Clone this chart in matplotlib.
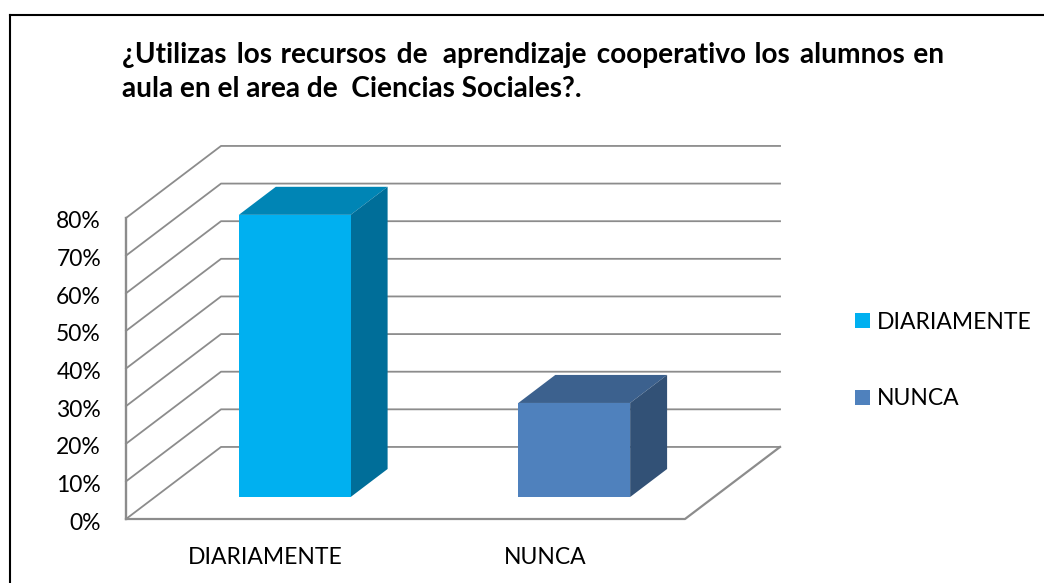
import matplotlib
matplotlib.use("Agg")
import matplotlib.pyplot as plt
from matplotlib.patches import Patch
from matplotlib.transforms import ScaledTranslation

plt.rcParams['font.family'] = ['Lato', 'DejaVu Sans']

categories = ['DIARIAMENTE', 'NUNCA']
values = [75, 25]
front_colors = ['#00B0F0', '#4F81BD']
top_colors = ['#0085B5', '#3C618E']
side_colors = ['#006E99', '#325176']
y_ticks = [0, 10, 20, 30, 40, 50, 60, 70, 80]
y_labels = ['0%', '10%', '20%', '30%', '40%', '50%', '60%', '70%', '80%']
# hair spaces stretch the first line out to the justified width of the original
title_lines = ['¿Utilizas \u200a\u200alos \u200arecursos \u200a\u200ade  \u200aaprendizaje \u200a\u200acooperativo \u200alos \u200a\u200aalumnos \u200aen',
               'aula en el area de  Ciencias Sociales?.']

W, H = 1044, 583
# how far the back of the box is shifted, in category units and percent
DEPTH_X = 0.34
DEPTH_Y = 19.15
BAR_WIDTH = 0.4
BAR_NEAR = 0.305
BAR_FAR = 0.694
GRID = '#8C8C8C'


def shift(x, y, d):
    return x + d * DEPTH_X, y + d * DEPTH_Y


def face(ax, pts, color, z):
    xs = [p[0] for p in pts]
    ys = [p[1] for p in pts]
    ax.fill(xs, ys, color=color, lw=0, zorder=z, clip_on=False)


fig = plt.figure(figsize=(W / 100, H / 100), dpi=100)

# frame of the pasted chart
frame = fig.add_axes([0, 0, 1, 1])
frame.set_xlim(0, W)
frame.set_ylim(H, 0)
frame.axis('off')
frame.plot([9.5, 9.5], [H, 14.5], color='black', lw=1.5)
frame.plot([9.5, W], [14.5, 14.5], color='black', lw=1.5)

# axes is the front plane of the 3d box
ax = fig.add_axes([126 / W, 1 - 519 / H, 559 / W, 301 / H])
ax.patch.set_alpha(0)
ax.set_xlim(0, len(categories))
ax.set_ylim(0, 80)
for s in ax.spines.values():
    s.set_visible(False)

for t in y_ticks:
    x1, y1 = shift(0, t, 1)
    x2, y2 = shift(len(categories), t, 1)
    ax.plot([0, x1, x2], [t, y1, y2], color=GRID, lw=1.3, zorder=1, clip_on=False)

# floor and the left edge
xb, yb = shift(len(categories), 0, 1)
ax.plot([0, 0], [80, 0], color=GRID, lw=1.7, zorder=2, clip_on=False)
ax.plot([0, len(categories), xb], [0, 0, yb], color=GRID, lw=1.6, zorder=2, clip_on=False)

for i, v in enumerate(values):
    left = i + 0.5 - BAR_WIDTH / 2
    right = i + 0.5 + BAR_WIDTH / 2
    fl = shift(left, 0, BAR_NEAR)
    fr = shift(right, 0, BAR_NEAR)
    tl = shift(left, v, BAR_NEAR)
    tr = shift(right, v, BAR_NEAR)
    br = shift(right, 0, BAR_FAR)
    tbr = shift(right, v, BAR_FAR)
    tbl = shift(left, v, BAR_FAR)
    face(ax, [tl, tr, tbr, tbl], top_colors[i], 3)
    face(ax, [fr, br, tbr, tr], side_colors[i], 3)
    face(ax, [fl, fr, tr, tl], front_colors[i], 4)

ax.set_yticks(y_ticks)
ax.set_yticklabels(y_labels, fontsize=16.5, color='black')
ax.set_xticks([i + 0.5 for i in range(len(categories))])
ax.set_xticklabels(categories, fontsize=16.5, color='black')
ax.tick_params(axis='y', length=0, pad=18)
ax.tick_params(axis='x', length=0, pad=20)

# percent labels sit a little below their lines
down = ScaledTranslation(0, -2 / 100, fig.dpi_scale_trans)
for label in ax.get_yticklabels():
    label.set_transform(label.get_transform() + down)

for line, ypos in zip(title_lines, [55, 89]):
    frame.text(122, ypos, line, fontsize=20.2, fontweight='bold', color='black', va='center', ha='left')

handles = [Patch(facecolor=c, edgecolor='none') for c in front_colors]
fig.legend(handles, categories, loc='center left', bbox_to_anchor=(855 / W, 1 - 360.5 / H),
           frameon=False, fontsize=16.5, handlelength=0.65, handleheight=0.65, handletextpad=0.3,
           labelspacing=2.42, borderpad=0, borderaxespad=0)

fig.savefig('out.png', dpi=100)
